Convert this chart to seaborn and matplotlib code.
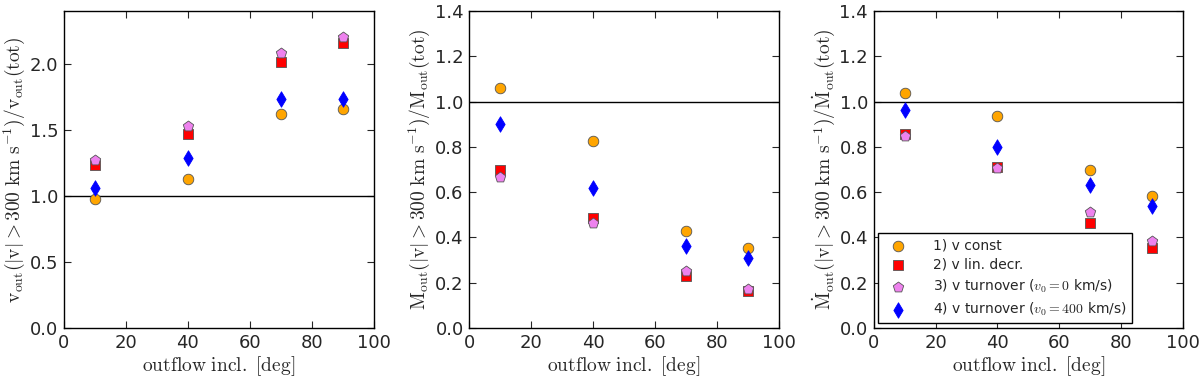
import numpy as np
import pandas as pd
import seaborn as sns
import matplotlib.pyplot as plt

# inclinações (graus)
incl = [10, 40, 70, 90]

series = ['1) v const', '2) v lin. decr.',
          r'3) v turnover ($v_0=0$ km/s)', r'4) v turnover ($v_0=400$ km/s)']

# painel 1: v_out ratio
v_const = [0.98, 1.13, 1.62, 1.66]
v_lin = [1.23, 1.47, 2.01, 2.16]
v_turn0 = [1.27, 1.53, 2.08, 2.20]
v_turn400 = [1.06, 1.29, 1.73, 1.73]

# painel 2: M_out ratio
m_const = [1.058, 0.824, 0.430, 0.351]
m_lin = [0.698, 0.485, 0.231, 0.162]
m_turn0 = [0.668, 0.463, 0.250, 0.173]
m_turn400 = [0.900, 0.616, 0.363, 0.311]

# painel 3: Mdot_out ratio
md_const = [1.036, 0.936, 0.696, 0.585]
md_lin = [0.855, 0.712, 0.463, 0.353]
md_turn0 = [0.848, 0.708, 0.514, 0.382]
md_turn400 = [0.962, 0.800, 0.632, 0.539]

sns.set_style('ticks')
plt.rcParams['font.family'] = ['DejaVu Sans']
plt.rcParams['mathtext.fontset'] = 'cm'
plt.rcParams['xtick.direction'] = 'in'
plt.rcParams['ytick.direction'] = 'in'
plt.rcParams['xtick.top'] = True
plt.rcParams['ytick.right'] = True

colors = ['orange', 'red', 'violet', 'blue']
markers = ['o', 's', 'p', 'd']
sizes = [58, 62, 62, 62]
edges = ['#555555', '#555555', '#555555', 'blue']

panels = [
    ([v_const, v_lin, v_turn0, v_turn400], 2.4, [0.0, 0.5, 1.0, 1.5, 2.0],
     r'$\mathrm{v_{out}(|v|>300\ km\ s^{-1})/v_{out}(tot)}$'),
    ([m_const, m_lin, m_turn0, m_turn400], 1.4, np.arange(0, 1.41, 0.2),
     r'$\mathrm{M_{out}(|v|>300\ km\ s^{-1})/M_{out}(tot)}$'),
    ([md_const, md_lin, md_turn0, md_turn400], 1.4, np.arange(0, 1.41, 0.2),
     r'$\mathrm{\dot{M}_{out}(|v|>300\ km\ s^{-1})/\dot{M}_{out}(tot)}$'),
]

fig = plt.figure(figsize=(12, 3.77), dpi=100)
lefts = [0.0533, 0.391, 0.728]
for k, (vals, ytop, yticks, ylab) in enumerate(panels):
    ax = fig.add_axes([lefts[k], 0.130, 0.258, 0.841])
    ax.axhline(1.0, color='black', lw=1, zorder=1)
    for i in range(4):
        df = pd.DataFrame({'incl': incl, 'val': vals[i]})
        sns.scatterplot(x='incl', y='val', data=df, ax=ax, marker=markers[i],
                        color=colors[i], s=sizes[i], edgecolor=edges[i],
                        linewidth=0.6, label=series[i], zorder=3)
    ax.set_xlim(0, 100)
    ax.set_ylim(0, ytop)
    ax.set_yticks(yticks)
    ax.set_xticks([0, 20, 40, 60, 80, 100])
    ax.tick_params(labelsize=13, length=5, width=0.8, pad=4)
    ax.set_xlabel(r'$\mathrm{outflow\ incl.\ [deg]}$', fontsize=14, labelpad=2)
    ax.set_ylabel(ylab, fontsize=14, labelpad=2)
    for sp in ax.spines.values():
        sp.set_linewidth(1.0)
        sp.set_color('black')
    if k == 2:
        leg = ax.legend(loc='lower left', fontsize=10, fancybox=False,
                        framealpha=1, edgecolor='black', borderpad=0.4,
                        handletextpad=1.5, labelspacing=0.4, markerscale=1.0,
                        scatterpoints=1, borderaxespad=0.35)
    else:
        ax.get_legend().remove()

plt.savefig('out.png', dpi=100)
